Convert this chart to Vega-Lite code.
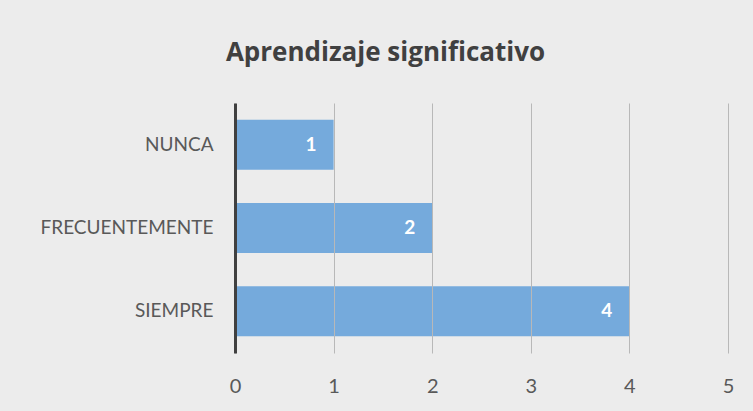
{
  "$schema": "https://vega.github.io/schema/vega-lite/v6.json",
  "width": 493,
  "height": 250,
  "autosize": {"type": "none"},
  "padding": {"left": 235, "top": 103, "right": 25, "bottom": 58},
  "background": "#ececec",
  "title": {
    "text": "Aprendizaje significativo",
    "font": "Open Sans",
    "fontSize": 26,
    "fontWeight": "bold",
    "color": "#404040",
    "anchor": "middle",
    "baseline": "alphabetic",
    "offset": 16,
    "dx": -96
  },
  "config": {
    "view": {"stroke": null, "fill": null}
  },
  "data": {
    "values": [
      {"categoria": "NUNCA", "valor": 1},
      {"categoria": "FRECUENTEMENTE", "valor": 2},
      {"categoria": "SIEMPRE", "valor": 4}
    ]
  },
  "encoding": {
    "y": {
      "field": "categoria",
      "type": "nominal",
      "sort": ["NUNCA", "FRECUENTEMENTE", "SIEMPRE"],
      "scale": {"paddingInner": 0.4, "paddingOuter": 0.2},
      "axis": {
        "title": null,
        "domain": true,
        "domainColor": "#404040",
        "domainWidth": 3,
        "ticks": false,
        "labelFont": "Lato",
        "labelFontSize": 19,
        "labelColor": "#595959",
        "labelPadding": 22,
        "zindex": 2
      }
    },
    "x": {
      "field": "valor",
      "type": "quantitative",
      "scale": {"domain": [0, 5], "nice": false},
      "axis": {
        "title": null,
        "values": [0, 1, 2, 3, 4, 5],
        "domain": false,
        "ticks": false,
        "grid": true,
        "gridColor": "#b8b8b8",
        "gridWidth": 1,
        "labelFlush": false,
        "labelFont": "Lato",
        "labelFontSize": 20,
        "labelColor": "#595959",
        "labelPadding": 23,
        "zindex": 1
      }
    }
  },
  "layer": [
    {
      "mark": {"type": "bar", "color": "#6fa7db", "opacity": 0.95}
    },
    {
      "mark": {
        "type": "text",
        "align": "right",
        "baseline": "middle",
        "dx": -17,
        "font": "Lato",
        "fontSize": 19,
        "fontWeight": "bold",
        "color": "#ffffff"
      },
      "encoding": {"text": {"field": "valor", "type": "quantitative"}}
    }
  ]
}
